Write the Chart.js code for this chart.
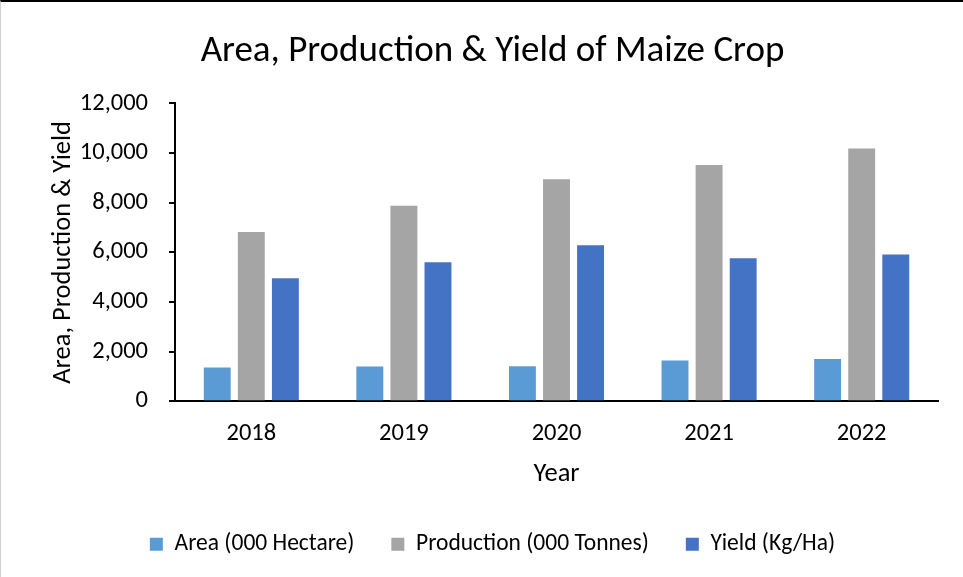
<!DOCTYPE html>
<html>
<head>
<meta charset="utf-8">
<script src="https://cdn.jsdelivr.net/npm/chart.js@4"></script>
<style>
  html, body { margin: 0; padding: 0; background: #fff; }
  .frame { position: relative; width: 963px; height: 577px; box-sizing: border-box;
           border-top: 2px solid #000; border-left: 1px solid #d0d0d0; }
  canvas { display: block; }
</style>
</head>
<body>
<div class="frame">
  <canvas id="chart" width="962" height="575"></canvas>
</div>
<script>
const years = ['2018', '2019', '2020', '2021', '2022']
const area = [1360, 1400, 1415, 1640, 1700]
const production = [6815, 7880, 8940, 9520, 10180]
const yieldKgHa = [4955, 5605, 6290, 5765, 5910]

const font = 'Carlito, Calibri, Lato, sans-serif'

const ctx = document.getElementById('chart').getContext('2d')
new Chart(ctx, {
  type: 'bar',
  data: {
    labels: years,
    datasets: [
      { label: 'Area (000 Hectare)', data: area, backgroundColor: '#5b9bd5' },
      { label: 'Production (000 Tonnes)', data: production, backgroundColor: '#a5a5a5' },
      { label: 'Yield (Kg/Ha)', data: yieldKgHa, backgroundColor: '#4472c4' }
    ]
  },
  options: {
    responsive: false,
    animation: false,
    categoryPercentage: 0.67,
    barPercentage: 0.79,
    layout: { padding: { left: 46, right: 25, top: 14, bottom: 11 } },
    plugins: {
      title: {
        display: true,
        text: 'Area, Production & Yield of Maize Crop',
        color: '#000',
        font: { family: font, size: 37, weight: 'normal' },
        padding: { top: 14, bottom: 29 }
      },
      legend: {
        position: 'bottom',
        labels: {
          color: '#000',
          boxWidth: 13,
          boxHeight: 13,
          padding: 37,
          font: { family: font, size: 23.5 }
        }
      },
      tooltip: { enabled: false }
    },
    scales: {
      x: {
        grid: { display: false },
        border: { color: '#000', width: 2 },
        ticks: { color: '#000', font: { family: font, size: 24.5 }, padding: 10 },
        title: { display: true, text: 'Year', color: '#000', font: { family: font, size: 26.5 }, padding: { top: 0, bottom: 5 } }
      },
      y: {
        min: 0,
        max: 12000,
        ticks: {
          stepSize: 2000,
          color: '#000',
          padding: 21,
          font: { family: font, size: 24.5 },
          callback: v => v.toLocaleString('en-US')
        },
        grid: { drawOnChartArea: false, drawTicks: true, tickLength: 6, color: '#000', lineWidth: 2 },
        border: { color: '#000', width: 2 },
        title: { display: true, text: 'Area, Production & Yield', color: '#000', font: { family: font, size: 26.5 }, padding: { top: 0, bottom: -20 } }
      }
    }
  }
})
</script>
</body>
</html>
